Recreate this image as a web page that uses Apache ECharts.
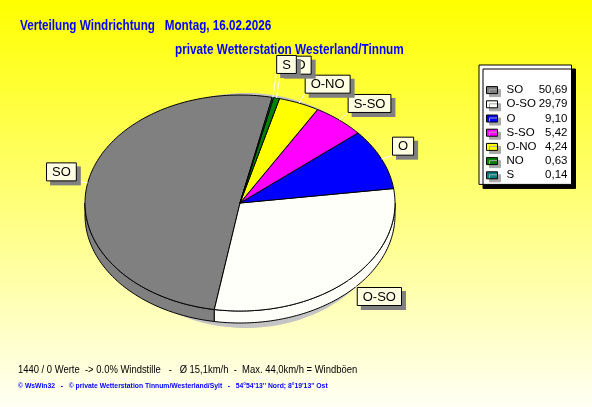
<!DOCTYPE html>
<html><head><meta charset="utf-8">
<script src="https://cdn.jsdelivr.net/npm/echarts@6/dist/echarts.min.js"></script>
<style>html,body{margin:0;padding:0;overflow:hidden}#c{width:592px;height:407px}</style>
</head><body><div id="c"></div>
<script>
// ---- data ----
const categories = ['SO', 'O-SO', 'O', 'S-SO', 'O-NO', 'NO', 'S'];
const values = [50.69, 29.79, 9.10, 5.42, 4.24, 0.63, 0.14];
const colors = ['#808080', '#fffffa', '#0000ff', '#ff00ff', '#ffff00', '#008000', '#008080'];
const titleText = 'Verteilung Windrichtung   Montag, 16.02.2026';
const subtitleText = 'private Wetterstation Westerland/Tinnum';
const legendHeader = '%';
const footer1 = '1440 / 0 Werte  -> 0.0% Windstille   -   \u00d8 15,1km/h  -  Max. 44,0km/h = Windb\u00f6en';
const footer2 = '\u00a9 WsWin32   -   \u00a9 private Wetterstation Tinnum/Westerland/Sylt   -   54\u00b054\'13\'\' Nord; 8\u00b019\'13\'\' Ost';

// ---- layout ----
const PIE = { cx: 240, cy: 203, rx: 155, ry: 108, depth: 12, startAngle: 78 };
const SANS = '"Liberation Sans", Arial, sans-serif';
const LABEL_FONT = '13px "Liberation Sans", Arial, sans-serif';

const total = values.reduce((a, b) => a + b, 0);
let acc = PIE.startAngle;
const slices = values.map(v => {
  const a0 = acc, a1 = acc + v / total * 360;
  acc = a1;
  return { a0, a1, mid: (a0 + a1) / 2 };
});

function pt(deg, dy) {
  const r = deg * Math.PI / 180;
  return [PIE.cx + PIE.rx * Math.cos(r), PIE.cy - PIE.ry * Math.sin(r) + (dy || 0)];
}
function arc(a0, a1, dy) {
  const n = Math.max(2, Math.ceil(Math.abs(a1 - a0)));
  const pts = [];
  for (let k = 0; k <= n; k++) pts.push(pt(a0 + (a1 - a0) * k / n, dy));
  return pts;
}

// label boxes (computed from slice mid angles)
const measureCtx = document.createElement('canvas').getContext('2d');
measureCtx.font = LABEL_FONT;
const BOX_H = 19, PAD_X = 5, LEAD = 11;
const labels = [];
slices.forEach((s, i) => {
  const anchor = pt(s.mid);
  const vx = anchor[0] - PIE.cx, vy = anchor[1] - PIE.cy;
  const len = Math.hypot(vx, vy);
  const c = vx / len, sn = -vy / len;
  let ex = anchor[0] + c * LEAD, ey = anchor[1] - sn * LEAD;
  const w = measureCtx.measureText(categories[i]).width + PAD_X * 2 + 2;
  const box = () => ({
    x: c >= 0 ? ex : ex - w,
    y: sn >= 0 ? ey - BOX_H : ey,
    w, h: BOX_H
  });
  let b = box();
  const overlaps = (p, q) => p.x < q.x + q.w + 12 && p.x + p.w + 12 > q.x && p.y < q.y + q.h && p.y + p.h > q.y;
  let guard = 0;
  while (guard++ < 200 && labels.some(l => l.major && overlaps(b, l.box))) {
    ey -= 1; b = box();
  }
  labels.push({ anchor, end: [ex, ey], box: b, major: values[i] / total >= 0.01 });
});

function renderSlice(i, color) {
  const s = slices[i];
  const children = [];
  const stroke = { stroke: '#000', lineWidth: 1 };
  if (i === 0) {
    // drop shadow of the pie body
    const sh = [];
    for (let k = 0; k < 360; k += 2) {
      const r = k * Math.PI / 180;
      sh.push([PIE.cx + 6 + (PIE.rx - 10) * Math.cos(r), PIE.cy + 7.5 - (PIE.ry + 9.5) * Math.sin(r)]);
    }
    children.push({ type: 'polygon', shape: { points: sh }, style: { fill: '#c4c4c4' }, z2: 0 });
  }
  // side faces (front half only)
  for (let k = -1; k <= 2; k++) {
    const lo = 180 + 360 * k, hi = 360 + 360 * k;
    const b0 = Math.max(s.a0, lo), b1 = Math.min(s.a1, hi);
    if (b1 > b0) {
      const pts = arc(b0, b1, 0).concat(arc(b1, b0, PIE.depth));
      children.push({ type: 'polygon', shape: { points: pts }, style: Object.assign({ fill: color }, stroke), z2: 1 });
    }
  }
  // top face
  const top = [[PIE.cx, PIE.cy]].concat(arc(s.a0, s.a1, 0));
  children.push({ type: 'polygon', shape: { points: top }, style: Object.assign({ fill: color }, stroke), z2: 2 });
  // label
  const L = labels[i];
  const cornerX = L.box.x === L.end[0] ? L.box.x : L.box.x + L.box.w;
  const cornerY = L.box.y === L.end[1] ? L.box.y : L.box.y + L.box.h;
  children.push({ type: 'line', shape: { x1: L.anchor[0], y1: L.anchor[1], x2: cornerX, y2: cornerY },
    style: { stroke: '#ffffff', lineWidth: 1 }, z2: 10 + i });
  children.push({ type: 'rect', shape: { x: L.box.x + 4, y: L.box.y + 4, width: L.box.w, height: L.box.h },
    style: { fill: '#808080' }, z2: 20 + i * 3 });
  children.push({ type: 'rect', shape: { x: L.box.x + 0.5, y: L.box.y + 0.5, width: L.box.w - 1, height: L.box.h - 1 },
    style: { fill: '#ffffe1', stroke: '#000', lineWidth: 1 }, z2: 21 + i * 3 });
  children.push({ type: 'text', style: { text: categories[i], x: L.box.x + L.box.w / 2, y: L.box.y + L.box.h / 2 + 0.5,
    align: 'center', verticalAlign: 'middle', font: LABEL_FONT, fill: '#000' }, z2: 22 + i * 3 });
  return { type: 'group', children };
}

const fmt = v => v.toFixed(2).replace('.', ',');

function txt(text, x, y, font, fill, sx) {
  return { type: 'text', x, y, scaleX: sx, scaleY: 1, silent: true,
    style: { text, font, fill, align: 'left', verticalAlign: 'top' } };
}

const chart = echarts.init(document.getElementById('c'), null, { renderer: 'canvas' });
chart.setOption({
  animation: false,
  backgroundColor: new echarts.graphic.LinearGradient(0, 0, 0, 1, [
    { offset: 0, color: '#ffff00' }, { offset: 1, color: '#fffff4' }
  ]),
  graphic: [
    txt(titleText, 20, 19, 'bold 14px ' + SANS, '#0000ff', 0.835),
    txt(subtitleText, 175, 43, 'bold 14px ' + SANS, '#0000ff', 0.84),
    txt(legendHeader, 549, 69, '11px ' + SANS, '#000', 1),
    txt(footer1, 18, 364, '11px ' + SANS, '#000', 0.858),
    txt(footer2, 18, 382, 'bold 8px ' + SANS, '#0000ff', 0.85)
  ],
  legend: {
    orient: 'vertical', left: 479, top: 65, padding: [18, 4, 2, 7],
    itemWidth: 11, itemHeight: 7, itemGap: 0, icon: 'rect', selectedMode: false,
    backgroundColor: '#ffffff', borderColor: '#000', borderWidth: 1,
    shadowColor: '#000', shadowOffsetX: 4, shadowOffsetY: 4, shadowBlur: 0,
    itemStyle: { borderColor: '#000', borderWidth: 1, shadowColor: '#a8a8a8', shadowOffsetX: 3, shadowOffsetY: 3, shadowBlur: 0 },
    data: categories,
    formatter: name => '{n|' + name + '}{v|' + fmt(values[categories.indexOf(name)]) + '}',
    textStyle: {
      color: '#000', fontFamily: SANS, fontSize: 11.5, lineHeight: 14.2,
      rich: {
        n: { width: 33, padding: [0, 0, 0, 4], fontFamily: SANS, fontSize: 11.5, color: '#000', lineHeight: 14.2 },
        v: { width: 28, align: 'right', fontFamily: SANS, fontSize: 11.5, color: '#000', lineHeight: 14.2 }
      }
    }
  },
  series: categories.map((name, i) => ({
    type: 'custom', name, coordinateSystem: 'none', silent: true,
    data: [values[i]], itemStyle: { color: colors[i] },
    renderItem: (params, api) => renderSlice(i, api.visual('color'))
  }))
});
</script></body></html>
